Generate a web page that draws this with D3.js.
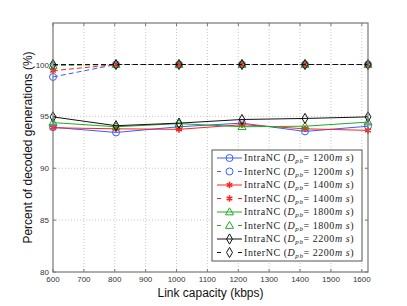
<!DOCTYPE html>
<html>
<head>
  <meta charset="utf-8">
  <style>
    body { margin: 0; background: #fff; }
    .grid line { stroke: #c8c8c8; stroke-dasharray: 1,2; }
    .tick-label { font-family: "Liberation Sans", Arial, sans-serif; font-size: 8px; fill: #333; }
    .axis-title { font-family: "Liberation Sans", Arial, sans-serif; font-size: 12px; fill: #111; }
    .legend text { font-family: "Liberation Serif", "DejaVu Serif", serif; font-size: 10px; letter-spacing: 0.55px; fill: #222; }
  </style>
</head>
<body>
  <svg width="407" height="306"></svg>
  <script src="https://d3js.org/d3.v7.min.js"></script>
  <script>
    const capacity = [600, 804, 1008, 1212, 1416, 1620];
    const xTicks = [600, 700, 800, 900, 1000, 1100, 1200, 1300, 1400, 1500, 1600];
    const yTicks = [80, 85, 90, 95, 100];

    const intra1200 = [93.95, 93.45, 94.0, 94.35, 93.55, 94.05];
    const inter1200 = [98.8, 100, 100, 100, 100, 100];
    const intra1400 = [93.9, 93.8, 93.75, 94.2, 93.8, 93.65];
    const inter1400 = [99.4, 100, 100, 100, 100, 100];
    const intra1800 = [94.4, 94.0, 94.3, 94.0, 94.05, 94.45];
    const inter1800 = [99.9, 100, 100, 100, 100, 100];
    const intra2200 = [94.95, 94.1, 94.35, 94.7, 94.8, 94.95];
    const inter2200 = [100, 100, 100, 100, 100, 100];

    const series = [
      { kind: "IntraNC", d: "1200", values: intra1200, color: "#3a5cff", marker: "circle", dashed: false },
      { kind: "InterNC", d: "1200", values: inter1200, color: "#3a5cff", marker: "circle", dashed: true },
      { kind: "IntraNC", d: "1400", values: intra1400, color: "#ff2222", marker: "star", dashed: false },
      { kind: "InterNC", d: "1400", values: inter1400, color: "#ff2222", marker: "star", dashed: true },
      { kind: "IntraNC", d: "1800", values: intra1800, color: "#22aa22", marker: "triangle", dashed: false },
      { kind: "InterNC", d: "1800", values: inter1800, color: "#22aa22", marker: "triangle", dashed: true },
      { kind: "IntraNC", d: "2200", values: intra2200, color: "#111111", marker: "diamond", dashed: false },
      { kind: "InterNC", d: "2200", values: inter2200, color: "#111111", marker: "diamond", dashed: true }
    ];

    const svg = d3.select("svg");
    const margin = { top: 23, right: 39, bottom: 34, left: 53 };
    const width = 407 - margin.left - margin.right;
    const height = 306 - margin.top - margin.bottom;

    const x = d3.scaleLinear().domain([600, 1620]).range([0, width]);
    const y = d3.scaleLinear().domain([80, 104]).range([height, 0]);

    const g = svg.append("g").attr("transform", `translate(${margin.left},${margin.top})`);

    // grid
    const grid = g.append("g").attr("class", "grid");
    grid.selectAll(".gx").data(xTicks.slice(1)).enter().append("line")
      .attr("x1", d => x(d)).attr("x2", d => x(d)).attr("y1", 0).attr("y2", height);
    grid.selectAll(".gy").data(yTicks.slice(1)).enter().append("line")
      .attr("x1", 0).attr("x2", width).attr("y1", d => y(d)).attr("y2", d => y(d));

    // inward ticks
    const tickColor = "#777";
    g.selectAll(".tx").data(xTicks).enter().append("line")
      .attr("x1", d => x(d)).attr("x2", d => x(d)).attr("y1", height).attr("y2", height - 3)
      .attr("stroke", tickColor);
    g.selectAll(".tx2").data(xTicks).enter().append("line")
      .attr("x1", d => x(d)).attr("x2", d => x(d)).attr("y1", 0).attr("y2", 3)
      .attr("stroke", tickColor);
    g.selectAll(".ty").data(yTicks).enter().append("line")
      .attr("x1", 0).attr("x2", 3).attr("y1", d => y(d)).attr("y2", d => y(d))
      .attr("stroke", tickColor);
    g.selectAll(".ty2").data(yTicks).enter().append("line")
      .attr("x1", width).attr("x2", width - 3).attr("y1", d => y(d)).attr("y2", d => y(d))
      .attr("stroke", tickColor);

    // tick labels
    g.selectAll(".lx").data(xTicks).enter().append("text")
      .attr("class", "tick-label")
      .attr("x", d => x(d)).attr("y", height + 10)
      .attr("text-anchor", "middle")
      .text(d => d);
    g.selectAll(".ly").data(yTicks).enter().append("text")
      .attr("class", "tick-label")
      .attr("x", -4).attr("y", d => y(d) + 3)
      .attr("text-anchor", "end")
      .text(d => d);

    // lines and markers
    const line = d3.line().x((d, i) => x(capacity[i])).y(d => y(d));

    const star = d3.symbol().type(d3.symbolAsterisk || d3.symbolCross).size(30);
    const tri = d3.symbol().type(d3.symbolTriangle).size(28);
    const diamond = d3.symbol().type(d3.symbolDiamond).size(30);

    function drawMarker(sel, s, cx, cy) {
      if (s.marker === "circle") {
        sel.append("circle").attr("cx", cx).attr("cy", cy).attr("r", 3.5)
          .attr("fill", "none").attr("stroke", s.color).attr("stroke-width", 1);
      } else if (s.marker === "star") {
        sel.append("path").attr("d", star()).attr("transform", `translate(${cx},${cy})`)
          .attr("fill", s.color).attr("stroke", s.color).attr("stroke-width", 1.6);
      } else if (s.marker === "triangle") {
        sel.append("path").attr("d", tri()).attr("transform", `translate(${cx},${cy + 0.5})`)
          .attr("fill", "none").attr("stroke", s.color).attr("stroke-width", 1);
      } else {
        sel.append("path").attr("d", diamond()).attr("transform", `translate(${cx},${cy})`)
          .attr("fill", "none").attr("stroke", s.color).attr("stroke-width", 1);
      }
    }

    const plot = g.append("g");
    series.forEach(s => {
      plot.append("path")
        .datum(s.values)
        .attr("d", line)
        .attr("fill", "none")
        .attr("stroke", s.color)
        .attr("stroke-width", 1)
        .attr("stroke-dasharray", s.dashed ? "5,3" : null);
      const mg = plot.append("g");
      s.values.forEach((v, i) => drawMarker(mg, s, x(capacity[i]), y(v)));
    });

    // axes box
    g.append("rect").attr("x", 0).attr("y", 0).attr("width", width).attr("height", height)
      .attr("fill", "none").attr("stroke", "#777").attr("stroke-width", 1.2);

    // axis titles
    svg.append("text").attr("class", "axis-title")
      .attr("x", margin.left + width / 2).attr("y", 297)
      .attr("text-anchor", "middle")
      .text("Link capacity (kbps)");
    svg.append("text").attr("class", "axis-title")
      .attr("transform", `translate(32,${margin.top + height / 2}) rotate(-90)`)
      .attr("text-anchor", "middle")
      .text("Percent of decoded generations (%)");

    // legend
    const leg = svg.append("g").attr("class", "legend").attr("transform", "translate(212,150)");
    leg.append("rect").attr("width", 150).attr("height", 111)
      .attr("fill", "#fff").attr("stroke", "#555").attr("stroke-width", 1);
    series.forEach((s, i) => {
      const ry = 8 + i * 13.5;
      const row = leg.append("g");
      row.append("line").attr("x1", 5).attr("x2", 30).attr("y1", ry).attr("y2", ry)
        .attr("stroke", s.color).attr("stroke-width", 1)
        .attr("stroke-dasharray", s.dashed ? "4,17,4" : null);
      drawMarker(row, s, 17.5, ry);
      const t = row.append("text").attr("x", 32).attr("y", ry + 3);
      t.append("tspan").text(s.kind + " (");
      t.append("tspan").attr("font-style", "italic").text("D");
      t.append("tspan").attr("font-style", "italic").attr("font-size", "7px").attr("dy", 2).text("pb");
      t.append("tspan").attr("dy", -2).text("= " + s.d);
      t.append("tspan").attr("font-style", "italic").text("m s");
      t.append("tspan").text(")");
    });
  </script>
</body>
</html>
